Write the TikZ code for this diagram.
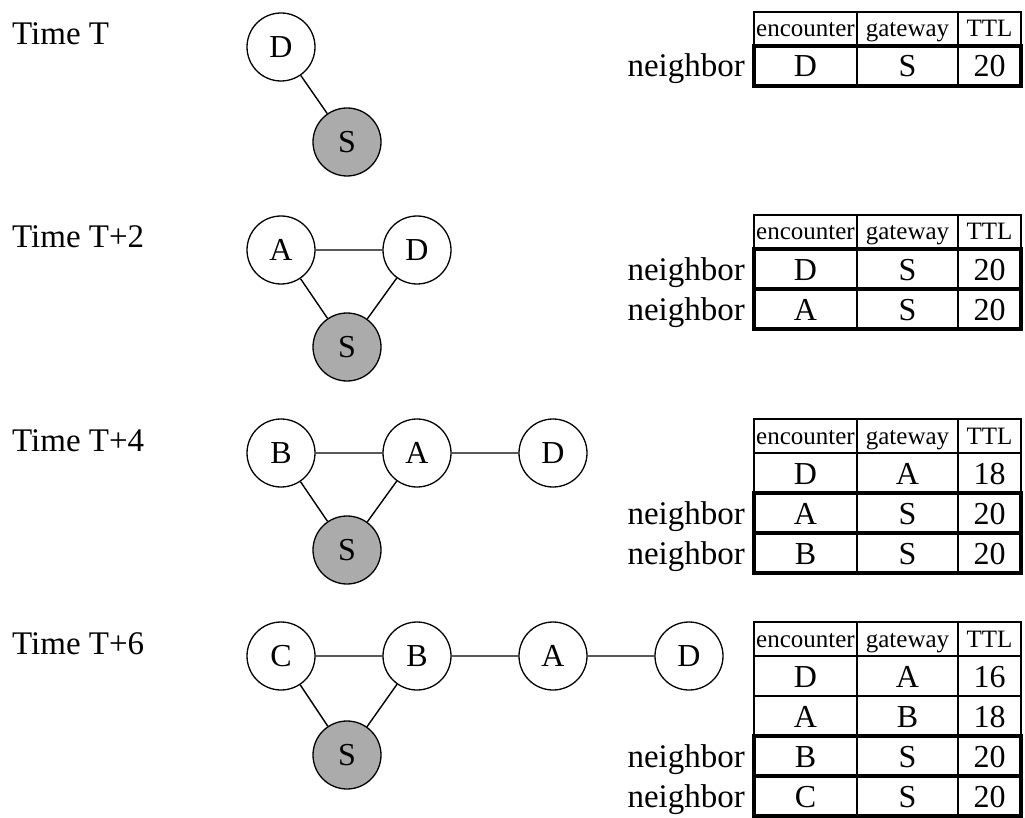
\documentclass[tikz,border=0pt]{standalone}
\usepackage{fontspec}
\setmainfont{Liberation Serif}
\tikzset{
  nd/.style={circle, draw, line width=1.3pt, minimum size=68pt, inner sep=0pt, fill=white, font=\fontsize{32}{36}\selectfont},
  src/.style={nd, fill=black!33},
  edge/.style={line width=1.4pt},
  tlbl/.style={anchor=base west, inner sep=0pt, font=\fontsize{33}{38}\selectfont},
  hdr/.style={anchor=base, inner sep=0pt, font=\fontsize{25}{28}\selectfont},
  cell/.style={anchor=base, inner sep=0pt, font=\fontsize{32}{36}\selectfont},
  nb/.style={anchor=base east, inner sep=0pt, font=\fontsize{33}{38}\selectfont},
  tline/.style={line width=1.2pt},
  kline/.style={line width=3.6pt},
}
\newcommand\tblhead[2]{%
  \draw[tline] (754,#2) rectangle (1021,#2+34) (857,#2) -- (857,#2+34) (958,#2) -- (958,#2+34);
  \node[hdr] (#1e) at (805.5,#2+25) {encounter};
  \node[hdr] (#1g) at (907.5,#2+25) {gateway};
  \node[hdr] (#1t) at (989.5,#2+25) {TTL};}
\newcommand\tblrow[5]{%
  \draw[tline] (754,#2) rectangle (1021,#2+40) (857,#2) -- (857,#2+40) (958,#2) -- (958,#2+40);
  \node[cell] (#1e) at (805.5,#2+31) {#3};
  \node[cell] (#1g) at (907.5,#2+31) {#4};
  \node[cell] (#1t) at (989.5,#2+31) {#5};}
\newcommand\nbrow[5]{%
  \tblrow{#1}{#2}{#3}{#4}{#5}%
  \draw[kline] (754,#2) rectangle (1021,#2+40);
  \node[nb] (#1n) at (745,#2+31) {neighbor};}
\begin{document}
\begin{tikzpicture}[x=1pt,y=-1pt]
\useasboundingbox (0,0) rectangle (1025,818);
% ---------- Time T ----------
\node[tlbl] (l1) at (12,45) {Time T};
\node[nd]  (aD) at (281,47) {D};
\node[src] (aS) at (347,142) {S};
\draw[edge] (aD) -- (aS);
\tblhead{ta}{12}
\nbrow{taA}{46}{D}{S}{20}
% ---------- Time T+2 ----------
\node[tlbl] (l2) at (12,248) {Time T+2};
\node[nd]  (bA) at (281,250) {A};
\node[nd]  (bD) at (417,250) {D};
\node[src] (bS) at (347,347) {S};
\draw[edge] (bA) -- (bD) (bA) -- (bS) (bD) -- (bS);
\tblhead{tb}{215}
\nbrow{tbA}{249}{D}{S}{20}
\nbrow{tbB}{289}{A}{S}{20}
% ---------- Time T+4 ----------
\node[tlbl] (l3) at (12,451) {Time T+4};
\node[nd]  (cB) at (281,453) {B};
\node[nd]  (cA) at (417,453) {A};
\node[nd]  (cD) at (553,453) {D};
\node[src] (cS) at (347,550) {S};
\draw[edge] (cB) -- (cA) (cA) -- (cD) (cB) -- (cS) (cA) -- (cS);
\tblhead{tc}{419}
\tblrow{tcA}{453}{D}{A}{18}
\nbrow{tcB}{493}{A}{S}{20}
\nbrow{tcC}{533}{B}{S}{20}
% ---------- Time T+6 ----------
\node[tlbl] (l4) at (12,654) {Time T+6};
\node[nd]  (dC) at (281,656) {C};
\node[nd]  (dB) at (417,656) {B};
\node[nd]  (dA) at (553,656) {A};
\node[nd]  (dD) at (689,656) {D};
\node[src] (dS) at (347,755) {S};
\draw[edge] (dC) -- (dB) (dB) -- (dA) (dA) -- (dD) (dC) -- (dS) (dB) -- (dS);
\tblhead{td}{622}
\tblrow{tdA}{656}{D}{A}{16}
\tblrow{tdB}{696}{A}{B}{18}
\nbrow{tdC}{736}{B}{S}{20}
\nbrow{tdD}{776}{C}{S}{20}
\end{tikzpicture}
\end{document}
